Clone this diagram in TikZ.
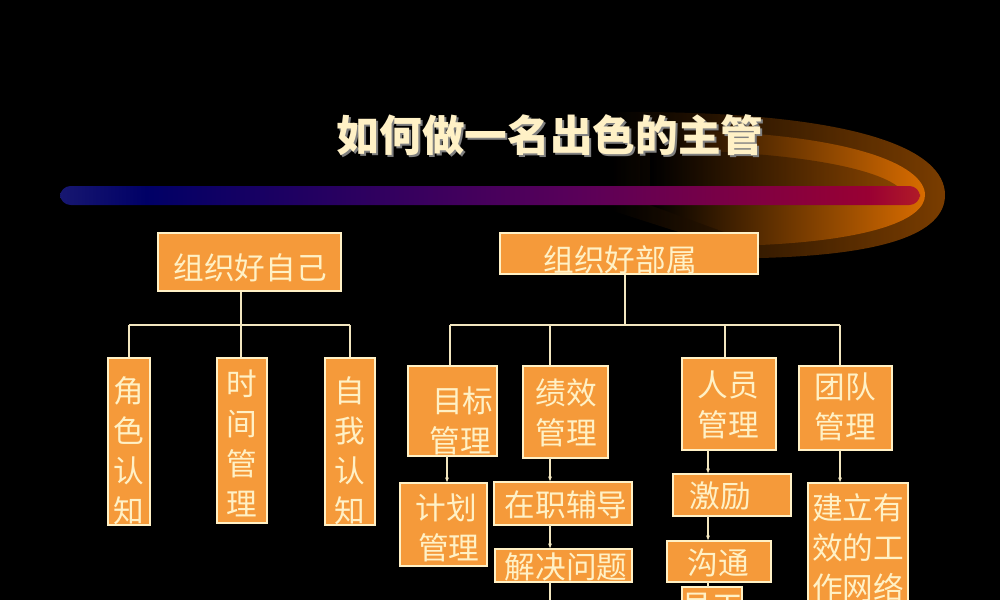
\documentclass[tikz,border=0pt]{standalone}
\usepackage{fontspec}
\newfontfamily\cjk{Noto Sans CJK SC}
\usetikzlibrary{fit}
\definecolor{boxfill}{HTML}{F59A3A}
\definecolor{cream}{HTML}{FFF1C6}
\pgfdeclarehorizontalshading{barshade}{100bp}{color(0bp)=(black); color(8bp)=(black!70!blue!60); color(30bp)=(blue!40!black); color(55bp)=(violet!70!black); color(72bp)=(purple!80!black); color(85bp)=(orange!90!red); color(100bp)=(yellow!80!orange)}
\tikzset{
 boxst/.style={draw=cream, line width=0.8pt, fill=boxfill, inner sep=0pt},
 txt/.style={text=cream, font=\cjk\fontsize{23}{30}\selectfont, align=center, inner sep=0pt},
 conn/.style={draw=cream!90!gray, line width=0.8pt},
 arr/.style={conn, -{Latex[length=4pt,width=3pt]}}
}
\usetikzlibrary{arrows.meta}
\newcommand\bx[5]{\node[boxst, fit={(#2,#3)(#4,#5)}] (#1) {};}
\newcommand\tx[4]{\begin{scope}\clip (#1.south west) rectangle (#1.north east);\node[txt] at (#2,#3) {#4};\end{scope}}
\begin{document}
\begin{tikzpicture}[x=0.75pt,y=-0.75pt]
\fill[black] (0,0) rectangle (1000,600);
\useasboundingbox (0,0) rectangle (1000,600);
\clip (0,0) rectangle (1000,600);
% glow
\shade[left color=black, right color=orange!60!black, fill opacity=0.8] (610,112) .. controls (860,110) and (945,150) .. (945,195) .. controls (945,235) and (880,255) .. (760,258) -- (610,210) -- cycle;
\shade[left color=black, right color=orange!85!black] (650,130) .. controls (850,130) and (925,165) .. (925,195) .. controls (925,220) and (870,240) .. (760,245) -- (650,205) -- cycle;
\fill[black, opacity=0.3] (640,150) .. controls (820,150) and (900,175) .. (905,196) -- (640,196) -- cycle;
\shade[shading=barshade, rounded corners=8pt] (60,186) rectangle (920,205);
% title
\node[text=black!50, font=\cjk\bfseries\fontsize{32}{36}\selectfont] (tsh) at (552,137) {如何做一名出色的主管};
\node[text=cream, font=\cjk\bfseries\fontsize{32}{36}\selectfont] (title) at (550,135) {如何做一名出色的主管};
% left tree
\bx{ziji}{158}{233}{341}{291}
\tx{ziji}{250}{268}{组织好自己}
\coordinate (lj) at (241,325);
\coordinate (l1) at (129,325);
\coordinate (l3) at (350,325);
\bx{jiao}{108}{358}{150}{525}
\bx{shi}{217}{358}{267}{523}
\bx{wo}{325}{358}{375}{525}
\draw[conn] (lj |- ziji.south) -- (lj);
\draw[conn] (l1) -- (l3);
\draw[conn] (l1) -- (l1 |- jiao.north);
\draw[conn] (lj) -- (lj |- shi.north);
\draw[conn] (l3) -- (l3 |- wo.north);
\tx{jiao}{129}{451}{角\\色\\认\\知}
\tx{shi}{242}{443}{时\\间\\管\\理}
\tx{wo}{350}{451}{自\\我\\认\\知}
% right tree
\bx{bushu}{500}{233}{758}{274}
\tx{bushu}{620}{260}{组织好部属}
\coordinate (rj) at (625,325);
\coordinate (r1) at (450,325);
\coordinate (r2) at (550,325);
\coordinate (r3) at (725,325);
\coordinate (r4) at (840,325);
\draw[conn] (rj |- bushu.south) -- (rj);
\draw[conn] (r1) -- (r4);
\bx{mb}{408}{366}{497}{456}
\bx{jx}{523}{366}{608}{458}
\bx{ry}{682}{358}{776}{450}
\bx{td}{799}{366}{892}{450}
\draw[conn] (r1) -- (r1 |- mb.north);
\draw[conn] (r2) -- (r2 |- jx.north);
\draw[conn] (r3) -- (r3 |- ry.north);
\draw[conn] (r4) -- (r4 |- td.north);
\tx{mb}{460}{421}{\hspace{4pt}目标\\管理}
\tx{jx}{566}{413}{绩效\\管理}
\tx{ry}{728}{405}{人员\\管理}
\tx{td}{845}{407}{团队\\管理}
\bx{jh}{400}{483}{487}{566}
\bx{zz}{494}{482}{632}{525}
\bx{jj}{495}{549}{632}{582}
\bx{jl}{673}{474}{791}{516}
\bx{gt}{667}{541}{771}{582}
\bx{yg}{682}{587}{742}{640}
\bx{wl}{808}{483}{908}{640}
\draw[arr] (447,456) -- (447,483);
\draw[arr] (550,458) -- (550,482);
\draw[arr] (550,525) -- (550,549);
\draw[conn] (550,582) -- (550,600);
\draw[arr] (708,450) -- (708,474);
\draw[arr] (708,516) -- (708,541);
\draw[conn] (708,582) -- (708,587);
\draw[arr] (840,450) -- (840,483);
\tx{jh}{446}{528}{计划\\\hspace{4pt}管理}
\tx{zz}{566}{505}{在职辅导}
\tx{jj}{566}{567}{解决问题}
\tx{jl}{720}{496}{激励}
\tx{gt}{718}{563}{沟通}
\tx{yg}{712}{607}{员工}
\tx{wl}{858}{548}{建立有\\效的工\\作网络}
\end{tikzpicture}
\end{document}
